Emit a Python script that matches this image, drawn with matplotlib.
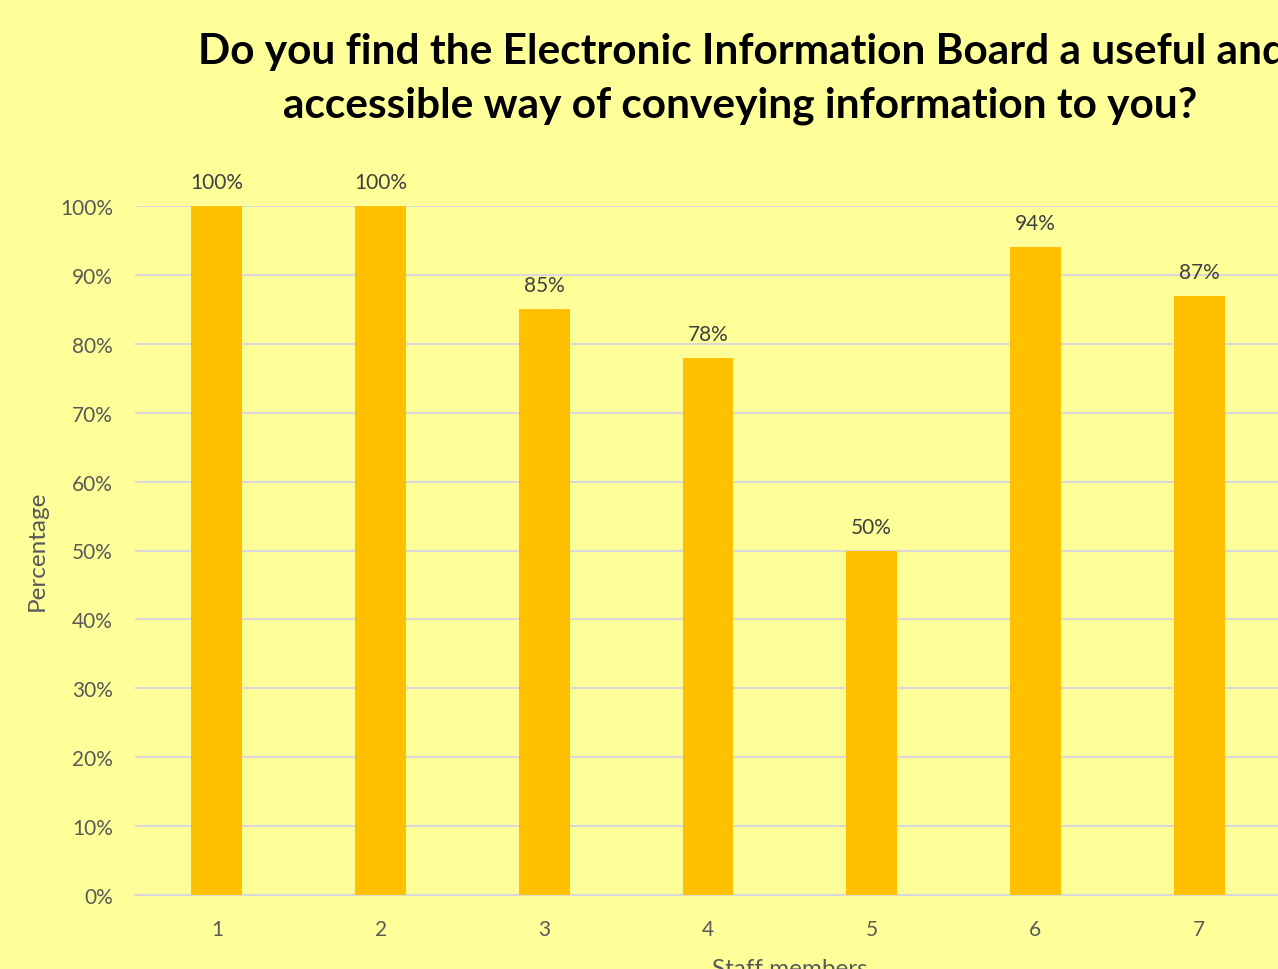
import matplotlib.pyplot as plt
import matplotlib.ticker as mticker

# Data
staff = [1, 2, 3, 4, 5, 6, 7]
percent = [1.00, 1.00, 0.85, 0.78, 0.50, 0.94, 0.87]
pct_labels = ['100%', '100%', '85%', '78%', '50%', '94%', '87%']

bg = '#FFFF99'
bar_color = '#FFC000'
grid_color = '#D9D9D9'
tick_color = '#595959'

plt.rcParams['font.family'] = ['Lato', 'DejaVu Sans']

fig = plt.figure(figsize=(12.78, 9.70), dpi=100, facecolor=bg)
ax = fig.add_axes([135 / 1278, 74 / 970, 1146 / 1278, 689 / 970], facecolor=bg)

bars = ax.bar(staff, percent, width=0.31, color=bar_color, zorder=3)

# value labels above bars
for x, y, lab in zip(staff, percent, pct_labels):
    ax.annotate(lab, (x, y), xytext=(0, 10), textcoords='offset points',
                ha='center', va='bottom', fontsize=15, color='#404040',
                annotation_clip=False)

ax.set_xlim(0.5, 7.5)
ax.set_ylim(0, 1.0)
ax.yaxis.set_major_locator(mticker.MultipleLocator(0.1))
ax.yaxis.set_major_formatter(mticker.PercentFormatter(1.0, decimals=0))
ax.set_xticks(staff)
ax.set_xticklabels([str(s) for s in staff])

ax.grid(axis='y', color=grid_color, linewidth=1.5, zorder=0)
ax.set_axisbelow(True)
for side in ['top', 'right', 'left']:
    ax.spines[side].set_visible(False)
ax.spines['bottom'].set_color(grid_color)
ax.spines['bottom'].set_linewidth(1.5)
ax.tick_params(axis='both', length=0, labelsize=15, colors=tick_color)
ax.tick_params(axis='y', pad=16)
ax.tick_params(axis='x', pad=17)

fig.text(37 / 1278, 1 - 551 / 970, 'Percentage', rotation=90, ha='center',
         va='center', fontsize=17.5, color=tick_color)
fig.text(790 / 1278, 1 - 970 / 970, 'Staff members', ha='center',
         va='center', fontsize=17.5, color=tick_color)

fig.text(742 / 1278, 1 - 52 / 970,
         'Do you find the Electronic Information Board a useful and',
         ha='center', va='center', fontsize=30.5, fontweight='bold',
         color='black')
fig.text(740 / 1278, 1 - 106 / 970,
         'accessible way of conveying information to you?',
         ha='center', va='center', fontsize=30.5, fontweight='bold',
         color='black')

fig.savefig('out.png', dpi=100, facecolor=bg)
